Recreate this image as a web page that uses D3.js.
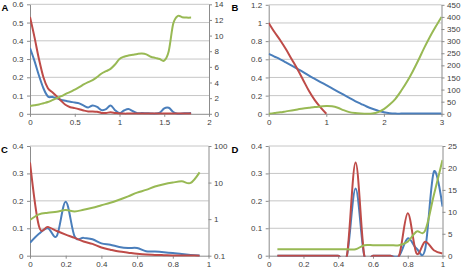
<!DOCTYPE html>
<html>
<head>
<meta charset="utf-8">
<script src="https://d3js.org/d3.v7.min.js"></script>
<style>
  body { margin: 0; background: #fff; }
  svg { display: block; }
  .axis text { font-family: "Liberation Sans", Arial, sans-serif; font-size: 8px; fill: #404040; }
  .axis path, .axis line { stroke: #8c8c8c; }
  .letter { font-family: "Liberation Sans", Arial, sans-serif; font-size: 9.5px; font-weight: bold; fill: #000; }
</style>
</head>
<body>
<script>
// ---- panel A ----
const xA = [0, 0.05, 0.1, 0.15, 0.2, 0.25, 0.3, 0.35, 0.4, 0.45, 0.5, 0.55, 0.6, 0.65, 0.7, 0.75, 0.8, 0.85, 0.9, 0.95,
            1, 1.05, 1.1, 1.15, 1.2, 1.25, 1.3, 1.35, 1.4, 1.45, 1.5, 1.55, 1.6, 1.65, 1.7, 1.75, 1.8];
const blueA = [0.36, 0.29, 0.21, 0.14, 0.095, 0.092, 0.085, 0.076, 0.071, 0.066, 0.062, 0.057, 0.045, 0.035, 0.046, 0.038, 0.02, 0.025, 0.046, 0.02,
               0.004, 0.018, 0.026, 0.014, 0.003, 0.004, 0.003, 0.002, 0.001, 0.006, 0.03, 0.033, 0.01, 0, 0.002, 0.003, 0.005];
const redA = [0.53, 0.42, 0.3, 0.2, 0.14, 0.118, 0.095, 0.07, 0.048, 0.036, 0.031, 0.025, 0.018, 0.013, 0.013, 0.011, 0.005, 0.005, 0.008, 0.005,
              0.002, 0.001, 0.001, 0.001, 0.001, 0.001, 0.001, 0.001, 0.001, 0.001, 0.001, 0.001, 0.001, 0.001, 0.001, 0.001, 0.001];
const greenA = [1.0, 1.1, 1.2, 1.35, 1.5, 1.75, 2.0, 2.25, 2.55, 2.8, 3.1, 3.4, 3.75, 4.05, 4.3, 4.7, 5.15, 5.45, 5.75, 6.3,
                7.0, 7.3, 7.45, 7.55, 7.65, 7.7, 7.6, 7.3, 7.15, 7.0, 6.8, 8.0, 11.5, 12.5, 12.35, 12.3, 12.3];
const xTicksA = [0, 0.5, 1, 1.5, 2];
const yTicksA = [0, 0.1, 0.2, 0.3, 0.4, 0.5, 0.6];
const rTicksA = [0, 2, 4, 6, 8, 10, 12, 14];

// ---- panel B ----
const xB = [0, 0.1, 0.2, 0.3, 0.4, 0.5, 0.6, 0.7, 0.8, 0.9, 1, 1.1, 1.2, 1.3, 1.4, 1.5, 1.6, 1.7, 1.8, 1.9,
            2, 2.1, 2.2, 2.3, 2.4, 2.5, 2.6, 2.7, 2.8, 2.9, 3];
const blueB = [0.66, 0.63, 0.6, 0.565, 0.53, 0.495, 0.46, 0.42, 0.385, 0.35, 0.315, 0.28, 0.245, 0.21, 0.175, 0.14, 0.11, 0.08, 0.055, 0.035,
               0.017, 0.006, 0.002, 0.002, 0.002, 0.002, 0.002, 0.002, 0.002, 0.002, 0.002];
const redB = [1.0, 0.9, 0.81, 0.71, 0.6, 0.49, 0.37, 0.25, 0.15, 0.07, 0];
const greenB = [0, 3, 6, 10, 14, 18, 22, 25, 28, 30, 32, 31, 25, 15, 7, 3, 1, 0, 1, 7,
                19, 38, 62, 95, 132, 175, 222, 272, 318, 360, 400];
const xTicksB = [0, 1, 2, 3];
const yTicksB = [0, 0.2, 0.4, 0.6, 0.8, 1, 1.2];
const rTicksB = [0, 50, 100, 150, 200, 250, 300, 350, 400, 450];

// ---- panel C ----
const xC = [0, 0.05, 0.1, 0.15, 0.2, 0.25, 0.3, 0.35, 0.4, 0.45, 0.5, 0.55, 0.6, 0.65, 0.7, 0.75, 0.8, 0.85, 0.9, 0.95];
const blueC = [0.047, 0.08, 0.1, 0.072, 0.197, 0.07, 0.065, 0.06, 0.045, 0.04, 0.032, 0.028, 0.028, 0.016, 0.015, 0.013, 0.01, 0.006, 0.003, 0.001];
const redC = [0.34, 0.108, 0.105, 0.09, 0.077, 0.065, 0.052, 0.043, 0.03, 0.022, 0.015, 0.011, 0.007, 0.004, 0.003, 0.002, 0.001, 0.001, 0.0005, 0];
const greenC = [0.95, 1.35, 1.5, 1.6, 1.78, 1.62, 1.8, 2.05, 2.4, 2.8, 3.4, 4.2, 5.3, 6.3, 7.8, 9.0, 10.0, 10.8, 9.8, 19];
const xTicksC = [0, 0.2, 0.4, 0.6, 0.8, 1];
const yTicksC = [0, 0.1, 0.2, 0.3, 0.4];
const rTicksC = [0.1, 1, 10, 100];

// ---- panel D ----
const xD = [0.05, 0.1, 0.15, 0.2, 0.25, 0.3, 0.35, 0.4, 0.45, 0.5, 0.55, 0.6, 0.65, 0.7, 0.75, 0.8, 0.85, 0.9, 0.95, 1];
const blueD = [0, 0, 0, 0, 0, 0, 0, 0, 0, 0.245, 0, 0, 0, 0, 0, 0.063, 0.027, 0.023, 0.306, 0.179];
const redD = [0, 0, 0, 0, 0, 0, 0, 0, 0, 0.34, 0, 0, 0, 0, 0, 0.155, 0.009, 0.051, 0.02, 0.008];
const greenD = [1.45, 1.45, 1.45, 1.45, 1.45, 1.45, 1.45, 1.45, 1.45, 1.45, 2.4, 2.4, 2.4, 2.4, 2.4, 3.2, 5.5, 5.7, 13.8, 21.8];
const xTicksD = [0, 0.2, 0.4, 0.6, 0.8, 1];
const yTicksD = [0, 0.1, 0.2, 0.3, 0.4];
const rTicksD = [0, 5, 10, 15, 20, 25];

const BLUE = "#4a7ebb", RED = "#be4b48", GREEN = "#98b954";

const svg = d3.select("body").append("svg").attr("width", 462).attr("height", 271);

const panels = [
    { label: "A", lx: 1.5, ly: 10.7, left: 30, right: 209, top: 4.3, bottom: 113.8,
      xDomain: [0, 2], xTicks: xTicksA, yTicks: yTicksA, rTicks: rTicksA, rLog: false,
      series: [[xA, blueA, BLUE, "l"], [xA, redA, RED, "l"], [xA, greenA, GREEN, "r"]] },
    { label: "B", lx: 231.5, ly: 10.7, left: 268.7, right: 441.5, top: 4.8, bottom: 113.8,
      xDomain: [0, 3], xTicks: xTicksB, yTicks: yTicksB, rTicks: rTicksB, rLog: false,
      series: [[xB, blueB, BLUE, "l"], [xB, redB, RED, "l"], [xB, greenB, GREEN, "r"]] },
    { label: "C", lx: 1, ly: 153.3, left: 30, right: 208.5, top: 146, bottom: 255.7,
      xDomain: [0, 1], xTicks: xTicksC, yTicks: yTicksC, rTicks: rTicksC, rLog: true,
      series: [[xC, blueC, BLUE, "l"], [xC, redC, RED, "l"], [xC, greenC, GREEN, "r"]] },
    { label: "D", lx: 231.5, ly: 153.3, left: 268.7, right: 442.5, top: 146, bottom: 255.7,
      xDomain: [0, 1], xTicks: xTicksD, yTicks: yTicksD, rTicks: rTicksD, rLog: false,
      series: [[xD, blueD, BLUE, "l"], [xD, redD, RED, "l"], [xD, greenD, GREEN, "r"]] }
];

const fmt = d => String(d);

panels.forEach(p => {
    const g = svg.append("g");
    const x = d3.scaleLinear().domain(p.xDomain).range([p.left, p.right]);
    const y = d3.scaleLinear().domain(d3.extent(p.yTicks)).range([p.bottom, p.top]);
    const r = (p.rLog ? d3.scaleLog() : d3.scaleLinear()).domain(d3.extent(p.rTicks)).range([p.bottom, p.top]);

    // horizontal gridlines at the left-axis ticks
    g.selectAll(".grid")
        .data(p.yTicks.slice(1))
        .enter().append("line")
        .attr("x1", p.left).attr("x2", p.right)
        .attr("y1", d => y(d)).attr("y2", d => y(d))
        .attr("stroke", "#c6c6c6").attr("stroke-width", 1);

    g.append("g").attr("class", "axis")
        .attr("transform", `translate(${p.left},0)`)
        .call(d3.axisLeft(y).tickValues(p.yTicks).tickFormat(fmt).tickSize(3).tickSizeOuter(0).tickPadding(3.5));

    g.append("g").attr("class", "axis")
        .attr("transform", `translate(${p.right},0)`)
        .call(d3.axisRight(r).tickValues(p.rTicks).tickFormat(fmt).tickSize(3).tickSizeOuter(0).tickPadding(2.5));

    g.append("g").attr("class", "axis")
        .attr("transform", `translate(0,${p.bottom})`)
        .call(d3.axisBottom(x).tickValues(p.xTicks).tickFormat(fmt).tickSize(3).tickSizeOuter(0).tickPadding(3));

    g.selectAll(".axis .domain").attr("stroke", "#8c8c8c");

    const clipId = "clip" + p.label;
    svg.append("clipPath").attr("id", clipId).append("rect")
        .attr("x", p.left).attr("y", p.top - 1)
        .attr("width", p.right - p.left).attr("height", p.bottom - p.top + 2);

    const lines = g.append("g").attr("clip-path", `url(#${clipId})`);
    p.series.forEach(([xs, vals, color, side]) => {
        const s = side === "r" ? r : y;
        const pts = vals.map((v, i) => [xs[i], v]);
        lines.append("path")
            .datum(pts)
            .attr("fill", "none")
            .attr("stroke", color)
            .attr("stroke-width", 2)
            .attr("d", d3.line().x(d => x(d[0])).y(d => s(d[1])).curve(d3.curveCardinal.tension(0)));
    });

    svg.append("text").attr("class", "letter").attr("x", p.lx).attr("y", p.ly).text(p.label);
});
</script>
</body>
</html>
